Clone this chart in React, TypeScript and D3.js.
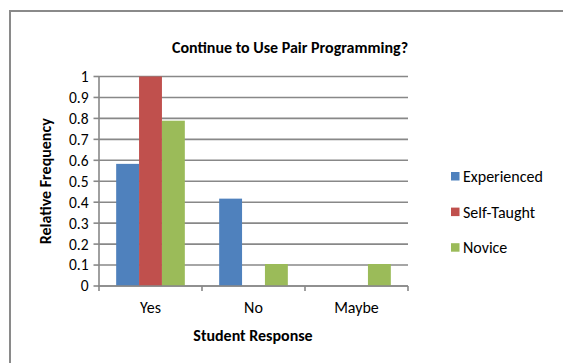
import React from "react";
import * as d3 from "d3";

const categories = ["Yes", "No", "Maybe"];
const seriesNames = ["Experienced", "Self-Taught", "Novice"];
const experienced = [0.583, 0.417, 0];
const selfTaught = [1, 0, 0];
const novice = [0.789, 0.105, 0.105];
const yTicks = [0, 0.1, 0.2, 0.3, 0.4, 0.5, 0.6, 0.7, 0.8, 0.9, 1];
const colors = ["#4F81BD", "#C0504D", "#9BBB59"];

const W = 563;
const H = 363;
const FONT = "Carlito, Calibri, Lato, 'Open Sans', sans-serif";
const GRID = "#888888";

export default function App() {
  const values = [experienced, selfTaught, novice];

  const x0 = d3.scaleBand<string>().domain(categories).range([99, 408]).padding(0);
  const x1 = d3
    .scaleBand<string>()
    .domain(seriesNames)
    .range([0, x0.bandwidth()])
    .paddingInner(0)
    .paddingOuter(0.75);
  const y = d3.scaleLinear().domain([0, 1]).range([286, 76.5]);

  const xTickPositions = [...categories.map((c) => x0(c)!), 408];

  return (
    <svg
      width={W}
      height={H}
      style={{ position: "absolute", left: 0, top: 0, background: "#fff" }}
      fontFamily={FONT}
    >
      <rect x={0} y={0} width={W} height={H} fill="#fff" />
      {/* chart frame */}
      <rect x={10} y={11} width={W + 20} height={H + 20} fill="none" stroke="#8a8a8a" strokeWidth={2} />

      <text x={290} y={52.5} textAnchor="middle" fontSize={16} fontWeight="bold" fill="#000">
        Continue to Use Pair Programming?
      </text>

      {/* gridlines */}
      {yTicks.map((t) => (
        <line key={"g" + t} x1={99} x2={408} y1={y(t)} y2={y(t)} stroke={GRID} strokeWidth={1.6} />
      ))}

      {/* bars */}
      {categories.map((c, ci) =>
        seriesNames.map((s, si) => {
          const v = values[si][ci];
          if (v <= 0) return null;
          return (
            <rect
              key={c + s}
              x={x0(c)! + x1(s)!}
              y={y(v)}
              width={x1.bandwidth()}
              height={y(0) - y(v)}
              fill={colors[si]}
            />
          );
        })
      )}

      {/* axes */}
      <line x1={99} x2={99} y1={y(1)} y2={y(0) + 1} stroke={GRID} strokeWidth={1.6} />
      <line x1={98} x2={408} y1={y(0)} y2={y(0)} stroke={GRID} strokeWidth={1.6} />
      {yTicks.map((t) => (
        <g key={"t" + t}>
          <line x1={93.5} x2={99} y1={y(t)} y2={y(t)} stroke={GRID} strokeWidth={1.6} />
          <text x={88.5} y={y(t)} dy="0.35em" textAnchor="end" fontSize={15.5} fill="#000">
            {d3.format("~g")(t)}
          </text>
        </g>
      ))}
      {xTickPositions.map((p, i) => (
        <line key={"x" + i} x1={p} x2={p} y1={y(0)} y2={y(0) + 5} stroke={GRID} strokeWidth={1.6} />
      ))}
      {categories.map((c) => (
        <text key={"l" + c} x={x0(c)! + x0.bandwidth() / 2} y={312.5} textAnchor="middle" fontSize={16} fill="#000">
          {c}
        </text>
      ))}

      <text x={253} y={341} textAnchor="middle" fontSize={16} fontWeight="bold" fill="#000">
        Student Response
      </text>
      <text
        transform={`translate(50.5,${(y(0) + y(1)) / 2}) rotate(-90)`}
        textAnchor="middle"
        fontSize={16}
        fontWeight="bold"
        fill="#000"
      >
        Relative Frequency
      </text>

      {/* legend */}
      {seriesNames.map((s, i) => {
        const cy = 176.3 + i * 35.6;
        return (
          <g key={"lg" + s}>
            <rect x={451} y={cy - 4.3} width={8.5} height={8.5} fill={colors[i]} />
            <text x={463} y={cy} dy="0.35em" fontSize={16} fill="#000">
              {s}
            </text>
          </g>
        );
      })}
    </svg>
  );
}
